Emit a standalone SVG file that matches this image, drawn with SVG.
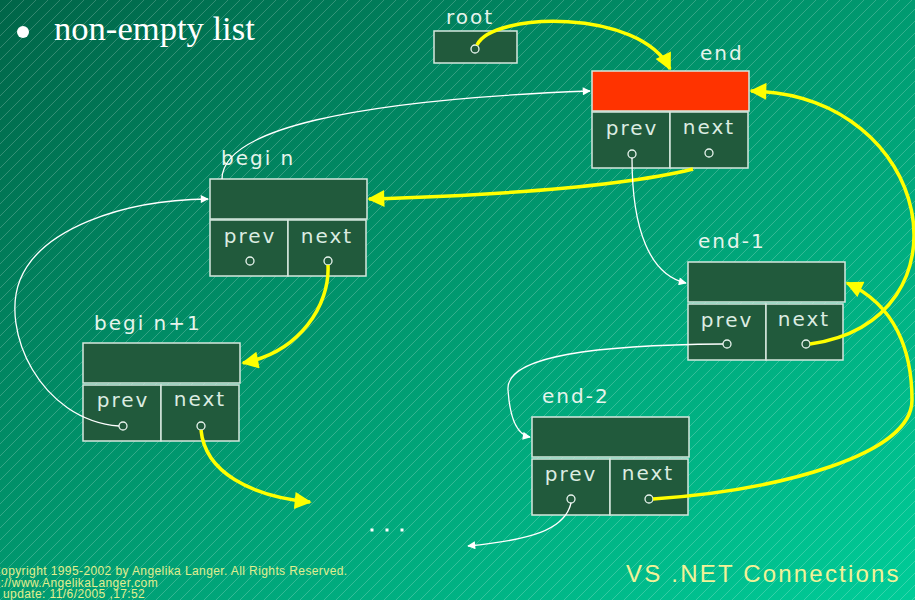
<svg xmlns="http://www.w3.org/2000/svg" width="915" height="600" viewBox="0 0 915 600">
  <defs>
    <linearGradient id="bg" x1="0" y1="0" x2="1" y2="1">
      <stop offset="0" stop-color="#006548"/>
      <stop offset="0.5" stop-color="#009a70"/>
      <stop offset="1" stop-color="#00cc98"/>
    </linearGradient>
    <pattern id="hatch" width="12" height="12" patternUnits="userSpaceOnUse">
      <path d="M-1,13 L13,-1 M-1,1 L1,-1 M11,13 L13,11" stroke="#ffffff" stroke-opacity="0.25" stroke-width="0.8"/>
    </pattern>
    <marker id="ya" viewBox="0 0 10 10" refX="9" refY="5" markerWidth="19" markerHeight="17" markerUnits="userSpaceOnUse" orient="auto">
      <path d="M0,0 L10,5 L0,10 Z" fill="#ffff00"/>
    </marker>
    <marker id="wa" viewBox="0 0 10 10" refX="9" refY="5" markerWidth="9" markerHeight="8" markerUnits="userSpaceOnUse" orient="auto">
      <path d="M0,0 L10,5 L0,10 Z" fill="#ffffff"/>
    </marker>
  </defs>
  <style>
    .box { fill: #215a3c; stroke: #d6e8de; stroke-width: 1.5; }
    .head { fill: #215a3c; stroke: #d6e8de; stroke-width: 1.5; }
    .red { fill: #ff3300; stroke: #d6e8de; stroke-width: 1.5; }
    .dot { fill: #215a3c; stroke: #e8f4ee; stroke-width: 1.3; }
    .field { font-family: "DejaVu Sans", sans-serif; font-size: 20px; letter-spacing: 2px; fill: #dcece2; text-anchor: middle; }
    .name { font-family: "DejaVu Sans", sans-serif; font-size: 20px; letter-spacing: 2px; fill: #e6f4ec; }
    .ylink { fill: none; stroke: #ffff00; stroke-width: 3.5; marker-end: url(#ya); }
    .wlink { fill: none; stroke: #ffffff; stroke-width: 1.3; marker-end: url(#wa); }
    .foot { font-family: "Liberation Sans", Arial, sans-serif; font-size: 12px; letter-spacing: 0.4px; fill: #e2ee8e; }
  </style>

  <!-- background -->
  <rect width="915" height="600" fill="url(#bg)"/>
  <rect width="915" height="600" fill="url(#hatch)"/>

  <!-- heading -->
  <circle cx="23" cy="32" r="6" fill="#ffffff"/>
  <text x="54" y="40" font-family="'Liberation Serif', 'Times New Roman', serif" font-size="34.6" fill="#ffffff">non-empty list</text>

  <!-- root pointer -->
  <g id="root">
    <text class="name" x="446" y="24">root</text>
    <rect class="box" x="434" y="31" width="83" height="32"/>
    <circle class="dot" cx="475" cy="49" r="4"/>
  </g>

  <!-- list nodes: header cell + prev / next fields -->
  <g id="node-end">
    <text class="name" x="700" y="60">end</text>
    <rect class="red" x="592" y="71" width="157" height="40"/>
    <rect class="box" x="592" y="112" width="78" height="56"/>
    <rect class="box" x="670" y="112" width="78" height="56"/>
    <text class="field" x="632" y="135">prev</text>
    <text class="field" x="709" y="134">next</text>
    <circle class="dot" cx="632" cy="154" r="4"/>
    <circle class="dot" cx="709" cy="153" r="4"/>
  </g>

  <g id="node-begin">
    <text class="name" x="221" y="165">begi n</text>
    <rect class="head" x="210" y="179" width="157" height="40"/>
    <rect class="box" x="210" y="220" width="78" height="56"/>
    <rect class="box" x="288" y="220" width="78" height="56"/>
    <text class="field" x="250" y="243">prev</text>
    <text class="field" x="327" y="243">next</text>
    <circle class="dot" cx="250" cy="261" r="4"/>
    <circle class="dot" cx="328" cy="261" r="4"/>
  </g>

  <g id="node-begin-1">
    <text class="name" x="94" y="330">begi n+1</text>
    <rect class="head" x="83" y="343" width="157" height="40"/>
    <rect class="box" x="83" y="385" width="78" height="56"/>
    <rect class="box" x="161" y="385" width="78" height="56"/>
    <text class="field" x="123" y="407">prev</text>
    <text class="field" x="200" y="406">next</text>
    <circle class="dot" cx="123" cy="426" r="4"/>
    <circle class="dot" cx="201" cy="426" r="4"/>
  </g>

  <g id="node-end-1">
    <text class="name" x="698" y="248">end-1</text>
    <rect class="head" x="688" y="262" width="157" height="40"/>
    <rect class="box" x="688" y="304" width="78" height="56"/>
    <rect class="box" x="766" y="304" width="77" height="56"/>
    <text class="field" x="727" y="327">prev</text>
    <text class="field" x="804" y="326">next</text>
    <circle class="dot" cx="727" cy="344" r="4"/>
    <circle class="dot" cx="806" cy="344" r="4"/>
  </g>

  <g id="node-end-2">
    <text class="name" x="542" y="403">end-2</text>
    <rect class="head" x="532" y="417" width="157" height="40"/>
    <rect class="box" x="532" y="459" width="78" height="56"/>
    <rect class="box" x="610" y="459" width="78" height="56"/>
    <text class="field" x="571" y="481">prev</text>
    <text class="field" x="648" y="480">next</text>
    <circle class="dot" cx="571" cy="499" r="4"/>
    <circle class="dot" cx="649" cy="499" r="4"/>
  </g>

  <!-- links -->
  <g id="connectors">
    <!-- next pointers (yellow) -->
    <path class="ylink" d="M477,45 C 492,12 640,8 670,69"/>
    <path class="ylink" d="M693,169 Q 600,192 369,199"/>
    <path class="ylink" d="M328,265 C 330,305 300,352 243,363"/>
    <path class="ylink" d="M201,430 C 205,472 250,496 310,502"/>
    <path class="ylink" d="M810,344 C 975,320 935,95 751,91"/>
    <path class="ylink" d="M653,499 C 780,490 912,455 912,400 C 912,350 895,305 847,283"/>
    <!-- prev pointers (white) -->
    <path class="wlink" d="M222,179 C 222,130 350,100 590,91"/>
    <path class="wlink" d="M119,426 C 40,420 0,330 20,280 C 40,230 120,200 208,199"/>
    <path class="wlink" d="M632,158 C 632,230 650,275 686,283"/>
    <path class="wlink" d="M723,344 C 600,345 505,355 508,390 C 510,420 518,435 530,437"/>
    <path class="wlink" d="M571,503 C 565,530 530,540 468,546"/>
  </g>

  <!-- continuation mark -->
  <g fill="#ffffff">
    <rect x="370.5" y="528.5" width="3" height="3"/>
    <rect x="385.5" y="528.5" width="3" height="3"/>
    <rect x="400.5" y="528.5" width="3" height="3"/>
  </g>

  <!-- footer -->
  <text class="foot" x="-8" y="575">Copyright 1995-2002 by Angelika Langer.  All Rights Reserved.</text>
  <text class="foot" x="-21" y="587">http://www.AngelikaLanger.com</text>
  <text class="foot" x="-25" y="598">Last update: 11/6/2005 ,17:52</text>
  <text x="626" y="582" font-family="'Liberation Sans', Arial, sans-serif" font-size="24" letter-spacing="2.2" fill="#f2f298">VS .NET Connections</text>
</svg>
